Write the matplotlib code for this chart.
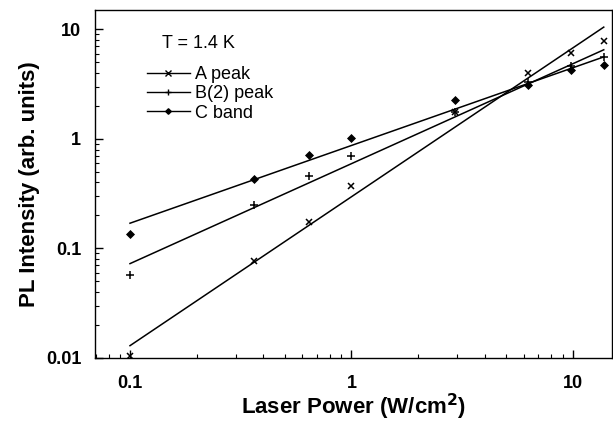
import matplotlib
matplotlib.use("Agg")
import matplotlib.pyplot as plt
import numpy as np
from matplotlib.ticker import LogLocator, NullFormatter, FixedLocator, FixedFormatter

plt.rcParams['font.family'] = ['Liberation Sans', 'DejaVu Sans']

# Laser power (W/cm^2)
power = [0.1, 0.365, 0.645, 1.0, 2.95, 6.3, 9.8, 13.8]

# PL intensity (arb. units)
a_peak = [0.0105, 0.076, 0.173, 0.368, 1.75, 4.0, 6.1, 7.8]
b_peak = [0.057, 0.249, 0.454, 0.70, 1.75, 3.3, 4.6, 5.6]
c_band = [0.134, 0.433, 0.71, 1.03, 2.26, 3.1, 4.3, 4.7]

# power-law fits: I = amp * P^expo
fit_amp = [0.296, 0.594, 0.871]
fit_expo = [1.36, 0.913, 0.71]
fit_range = [0.1, 13.8]

labels = ["A peak", "B(2) peak", "C band"]
markers = ["x", "+", "D"]
msizes = [5, 6, 3.5]
series = [a_peak, b_peak, c_band]

fig = plt.figure(figsize=(6.13, 4.25), dpi=100)
ax = fig.add_axes([0.155, 0.158, 0.843, 0.818])

xf = np.logspace(np.log10(fit_range[0]), np.log10(fit_range[1]), 50)
for ys, m, ms, amp, ex, lab in zip(series, markers, msizes, fit_amp, fit_expo, labels):
    ax.plot(power, ys, linestyle="none", marker=m, markersize=ms, color="black",
            markeredgewidth=1.1)
    ax.plot(xf, amp * xf ** ex, color="black", linewidth=1.1)
    # legend handle
    ax.plot([], [], color="black", linewidth=1.0, marker=m, markersize=ms * 0.8,
            markeredgewidth=1.0, label=lab)

ax.set_xscale("log")
ax.set_yscale("log")
ax.set_xlim(0.0695, 15.0)
ax.set_ylim(0.01, 15.0)

ax.xaxis.set_major_locator(FixedLocator([0.1, 1, 10]))
ax.xaxis.set_major_formatter(FixedFormatter(["0.1", "1", "10"]))
ax.yaxis.set_major_locator(FixedLocator([0.01, 0.1, 1, 10]))
ax.yaxis.set_major_formatter(FixedFormatter(["0.01", "0.1", "1", "10"]))
ax.xaxis.set_minor_locator(LogLocator(base=10, subs=np.arange(2, 10)))
ax.yaxis.set_minor_locator(LogLocator(base=10, subs=np.arange(2, 10)))
ax.xaxis.set_minor_formatter(NullFormatter())
ax.yaxis.set_minor_formatter(NullFormatter())

ax.tick_params(which="major", direction="in", length=6, width=1, labelsize=13, pad=12)
ax.tick_params(which="minor", direction="in", length=3, width=0.8)
ax.tick_params(axis="y", pad=10)
for lab in ax.get_xticklabels() + ax.get_yticklabels():
    lab.set_fontweight("bold")

for s in ax.spines.values():
    s.set_linewidth(1.0)

ax.set_xlabel("Laser Power (W/cm$^\\mathbf{2}$)", fontsize=16, fontweight="bold", labelpad=0)
ax.set_ylabel("PL Intensity (arb. units)", fontsize=16, fontweight="bold", labelpad=4)

ax.text(0.13, 0.905, "T = 1.4 K", transform=ax.transAxes, fontsize=13, va="center")
ax.legend(loc="upper left", bbox_to_anchor=(0.10, 0.84), frameon=False, fontsize=13,
          handlelength=2.4, handletextpad=0.28, labelspacing=0.13, borderpad=0,
          borderaxespad=0)

fig.savefig("out.png", dpi=100)
